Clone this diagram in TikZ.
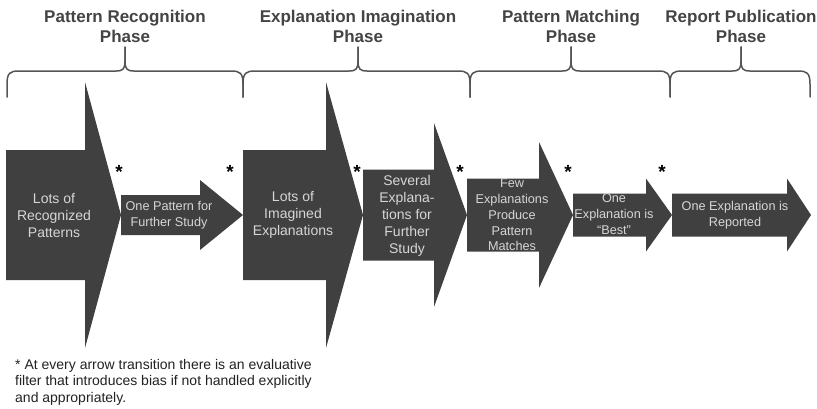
\documentclass[tikz,border=0pt]{standalone}
\usepackage{fontspec}
\setmainfont{Liberation Sans}
\definecolor{arrowfill}{HTML}{404040}
\definecolor{arrowtext}{HTML}{D6D6D6}
\definecolor{headgray}{HTML}{444444}
\definecolor{bracegray}{HTML}{555555}
\definecolor{notegray}{HTML}{222222}
\newcommand\flowarrow[6]{% left, head base, tip, body half, head half, centre y
  \fill[arrowfill] (#1,#6-#4) -- (#2,#6-#4) -- (#2,#6-#5) -- (#3,#6) -- (#2,#6+#5) -- (#2,#6+#4) -- (#1,#6+#4) -- cycle;}
\newcommand\phasebrace[3]{% left end, cusp, right end
  \draw[bracepath] (#1,97) -- (#1,84) .. controls (#1,73) and (#1+3,71) .. (#1+12,71)
    -- (#2-9,71) .. controls (#2-2,71) and (#2,69) .. (#2,61) -- (#2,47);
  \draw[bracepath] (#2,47) -- (#2,61) .. controls (#2,69) and (#2+2,71) .. (#2+9,71)
    -- (#3-12,71) .. controls (#3-3,71) and (#3,73) .. (#3,84) -- (#3,97);}
\begin{document}
\begin{tikzpicture}[x=1pt,y=-1pt,
  phase/.style={font=\bfseries\fontsize{17}{20}\selectfont, text=headgray, align=center, inner sep=0, anchor=north},
  bigtext/.style={font=\fontsize{14}{17}\selectfont, text=arrowtext, align=center, inner sep=0},
  smalltext/.style={font=\fontsize{12.7}{15.7}\selectfont, text=arrowtext, align=center, inner sep=0},
  star/.style={font=\bfseries\fontsize{19}{19}\selectfont, inner sep=0, anchor=north},
  bracepath/.style={draw=bracegray, line width=1.5pt, line join=round, line cap=round}
]
\useasboundingbox[fill=white] (0,0) rectangle (817,408);

% phase headers
\node[phase] (h1) at (125,10) {Pattern Recognition\\Phase};
\node[phase] (h2) at (358,10) {Explanation Imagination\\Phase};
\node[phase] (h3) at (571,10) {Pattern Matching\\Phase};
\node[phase] (h4) at (741,10) {Report Publication\\Phase};

% braces
\phasebrace{7}{125}{243}
\phasebrace{243}{358}{470}
\phasebrace{470}{571}{670}
\phasebrace{670}{741}{810}

% arrows
\flowarrow{6}{85}{121}{65}{133}{215}
\flowarrow{121}{200}{243}{20}{35}{215}
\flowarrow{243}{326}{363}{65}{133}{215}
\flowarrow{363}{434}{467}{45.5}{92}{215}
\flowarrow{467}{539}{573}{36.5}{73}{215}
\flowarrow{573}{646}{672}{21.5}{36.5}{215}
\flowarrow{672}{787}{811}{21.5}{36.5}{215}

% arrow labels
\node[bigtext] (a1) at (54,215) {Lots of\\Recognized\\Patterns};
\node[smalltext] (a2) at (169,215) {One Pattern for\\Further Study};
\node[bigtext] (a3) at (293,215) {Lots of\\Imagined\\Explanations};
\node[bigtext] (a4) at (407,216) {Several\\Explana-\\tions for\\Further\\Study};
\node[smalltext] (a5) at (512,215) {Few\\Explanations\\Produce\\Pattern\\Matches};
\node[smalltext] (a6) at (614,214) {One\\Explanation is\\“Best”};
\node[smalltext] (a7) at (735,215) {One Explanation is\\Reported};

% asterisks
\node[star] (s1) at (119,165) {*};
\node[star] (s2) at (230,165) {*};
\node[star] (s3) at (357,165) {*};
\node[star] (s4) at (460,165) {*};
\node[star] (s5) at (568,165) {*};
\node[star] (s6) at (662,165) {*};

% footnote
\node[font=\fontsize{14}{16.5}\selectfont, text=notegray, align=left, inner sep=0, anchor=north west] (note) at (15,359)
  {* At every arrow transition there is an evaluative\\filter that introduces bias if not handled explicitly\\and appropriately.};
\end{tikzpicture}
\end{document}
